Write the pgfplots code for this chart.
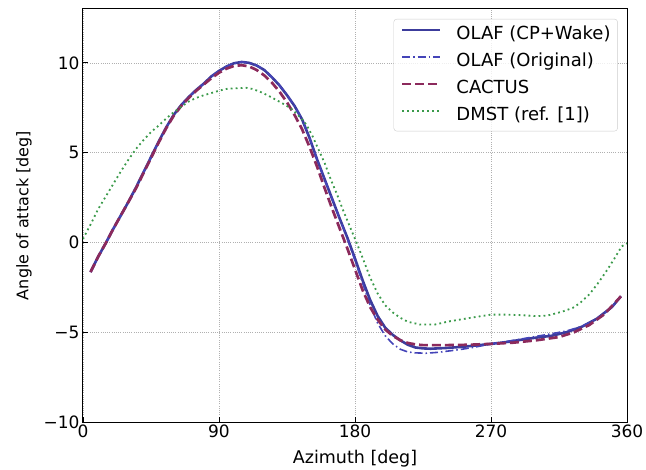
\documentclass[border=0pt]{standalone}
\usepackage{fontspec}
\setmainfont{DejaVu Sans}
\usepackage{pgfplots}
\pgfplotsset{compat=1.18}
\definecolor{olafA}{HTML}{3C3C9C}
\definecolor{olafB}{HTML}{4444B8}
\definecolor{cactus}{HTML}{8C2A5C}
\definecolor{dmst}{HTML}{3A9A4A}
\definecolor{gridgrey}{HTML}{B0B0B0}
\newcommand{\tickfont}{\fontsize{17bp}{20bp}\selectfont}
\newcommand{\labfont}{\fontsize{17.5bp}{20bp}\selectfont}
\newcommand{\legfont}{\fontsize{18bp}{21bp}\selectfont}

\begin{document}
\begin{tikzpicture}[font=\tickfont]
\path[use as bounding box] (-83bp,-48bp) rectangle (563bp,422bp);
\begin{axis}[
  at={(0,0)}, anchor=south west,
  scale only axis, width=544bp, height=413bp,
  xmin=0, xmax=360, ymin=-10, ymax=13,
  xtick={0,90,180,270,360},
  ytick={-10,-5,0,5,10},
  yticklabels={−10,−5,0,5,10},
  /pgf/number format/assume math mode=true,
  tick label style={font=\tickfont},
  xticklabel style={yshift=1bp},
  tick align=inside, xtick pos=bottom, ytick pos=left,
  major tick length=5bp,
  tick style={black, line width=0.9bp},
  axis line style={black, line width=1bp},
  grid=major, grid style={gridgrey, line width=0.7bp, dash pattern=on 1bp off 1.2bp},
  xlabel={Azimuth [deg]}, ylabel={Angle of attack [deg]},
  xlabel style={font=\labfont, yshift=-6bp},
  ylabel style={font=\fontsize{16bp}{19bp}\selectfont, yshift=5bp},
  legend style={at={(rel axis cs:0.983,0.976)}, anchor=north east, font=\legfont,
    draw=black!20, rounded corners=3bp, fill=white, fill opacity=0.8, text opacity=1,
    nodes={inner sep=0bp, text height=13bp, text depth=4bp},
    row sep=10bp, column sep=15bp, inner xsep=7bp, inner ysep=7bp},
  legend cell align=left,
  legend image code/.code={\draw[#1] (0bp,4.5bp) -- (38bp,4.5bp);},
]
% OLAF (CP+Wake)
\addplot[olafA, line width=2.6bp] coordinates {
 (5,-1.65) (10,-0.8) (15,-0.05) (20,0.75) (25,1.5) (30,2.25) (35,3.05) (40,3.9)
 (45,4.75) (50,5.6) (55,6.4) (60,7.1) (65,7.65) (70,8.1) (75,8.5) (80,8.85)
 (85,9.25) (90,9.55) (95,9.8) (100,9.98) (105,10.05) (110,10.0) (115,9.85) (120,9.6)
 (125,9.2) (130,8.75) (135,8.2) (140,7.6) (145,6.85) (150,5.8) (155,4.6) (160,3.5)
 (165,2.4) (170,1.3) (175,0.25) (180,-0.9) (185,-2.1) (190,-3.2) (195,-4.1) (200,-4.75)
 (205,-5.15) (210,-5.45) (215,-5.7) (220,-5.85) (225,-5.9) (230,-5.92) (240,-5.88) (250,-5.82)
 (260,-5.74) (270,-5.65) (280,-5.55) (290,-5.42) (300,-5.3) (310,-5.2) (320,-5.0) (330,-4.7)
 (340,-4.25) (350,-3.6) (356,-3.0)
};
\addlegendentry{OLAF (CP+Wake)}
% OLAF (Original)
\addplot[olafB, line width=1.6bp, dash pattern=on 8bp off 3bp on 1.5bp off 3bp] coordinates {
 (5,-1.65) (10,-0.8) (15,-0.05) (20,0.75) (25,1.5) (30,2.25) (35,3.05) (40,3.9)
 (45,4.75) (50,5.6) (55,6.4) (60,7.1) (65,7.65) (70,8.1) (75,8.5) (80,8.85)
 (85,9.25) (90,9.55) (95,9.8) (100,9.98) (105,10.05) (110,10.0) (115,9.85) (120,9.6)
 (125,9.2) (130,8.75) (135,8.2) (140,7.6) (145,6.85) (150,5.8) (155,4.6) (160,3.5)
 (165,2.4) (170,1.3) (175,0.2) (180,-1.0) (185,-2.25) (190,-3.5) (195,-4.5) (200,-5.2)
 (205,-5.65) (210,-5.95) (215,-6.1) (220,-6.15) (227,-6.17) (235,-6.12) (250,-5.96) (260,-5.82)
 (270,-5.65) (280,-5.52) (290,-5.38) (300,-5.23) (311,-5.07) (320,-4.93) (330,-4.68) (340,-4.25)
 (350,-3.6) (356,-3.0)
};
\addlegendentry{OLAF (Original)}
% CACTUS
\addplot[cactus, line width=2.7bp, dash pattern=on 9bp off 4bp] coordinates {
 (5,-1.65) (10,-0.8) (15,-0.05) (20,0.75) (25,1.5) (30,2.25) (35,3.0) (40,3.85)
 (45,4.7) (50,5.55) (55,6.35) (60,7.05) (65,7.6) (70,8.05) (75,8.45) (80,8.8)
 (85,9.15) (90,9.45) (95,9.68) (100,9.83) (105,9.87) (110,9.8) (115,9.6) (120,9.3)
 (125,8.9) (130,8.4) (135,7.8) (140,7.1) (145,6.3) (150,5.3) (155,4.2) (160,3.0)
 (165,1.85) (170,0.75) (175,-0.35) (180,-1.5) (185,-2.65) (190,-3.6) (195,-4.3) (200,-4.85)
 (205,-5.2) (210,-5.45) (215,-5.6) (220,-5.68) (225,-5.72) (240,-5.72) (255,-5.7) (270,-5.65)
 (285,-5.58) (300,-5.45) (315,-5.27) (325,-5.0) (335,-4.6) (345,-4.0) (356,-3.0)
};
\addlegendentry{CACTUS}
% DMST
\addplot[dmst, line width=1.8bp, dash pattern=on 1.8bp off 3.2bp] coordinates {
 (0,0.19) (5,1.0) (10,1.85) (15,2.55) (20,3.25) (25,3.95) (30,4.6) (35,5.2)
 (40,5.7) (45,6.15) (50,6.5) (55,6.9) (60,7.25) (65,7.55) (70,7.85) (75,8.05)
 (80,8.2) (85,8.32) (90,8.45) (95,8.55) (100,8.58) (108,8.61) (112,8.55) (117,8.4)
 (122,8.2) (128,7.93) (134,7.65) (139,7.37) (144,6.95) (148,6.54) (152,5.9) (156,5.15)
 (160,4.4) (164,3.5) (168,2.7) (172,1.82) (177,0.8) (181,0.0) (185,-0.85) (190,-1.95)
 (195,-2.85) (200,-3.5) (205,-3.9) (210,-4.2) (215,-4.42) (223,-4.57) (233,-4.57) (242,-4.4)
 (252,-4.26) (260,-4.15) (270,-4.02) (280,-4.02) (290,-4.05) (300,-4.1) (307,-4.08) (313,-3.95)
 (318,-3.83) (324,-3.65) (329,-3.37) (335,-2.9) (341,-2.25) (347,-1.52) (352,-0.85) (356.5,-0.22)
 (360,-0.05)
};
\addlegendentry{DMST (ref. [1])}
\end{axis}
\end{tikzpicture}
\end{document}
